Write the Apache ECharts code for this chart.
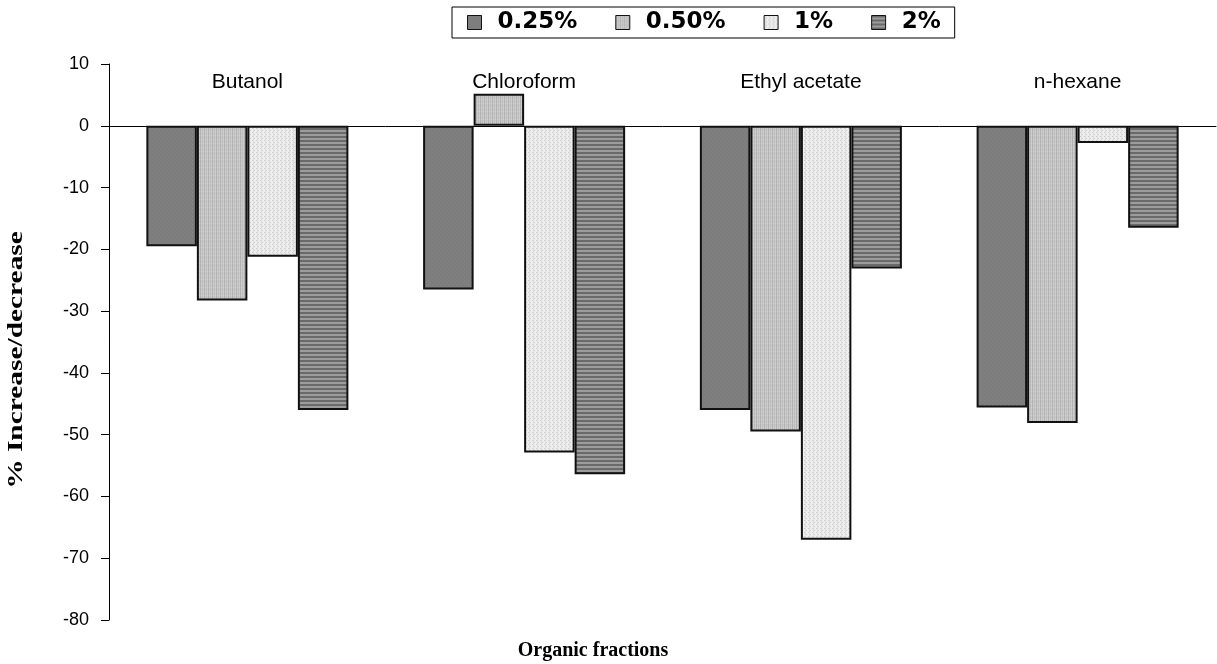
<!DOCTYPE html>
<html>
<head>
<meta charset="utf-8">
<script src="https://cdn.jsdelivr.net/npm/echarts@6/dist/echarts.min.js"></script>
<style>html,body{margin:0;padding:0;background:#fff;}#c{width:1217px;height:664px;}</style>
</head>
<body>
<div id="c"></div>
<script>
const categories = ['Butanol', 'Chloroform', 'Ethyl acetate', 'n-hexane'];
const seriesNames = ['0.25%', '0.50%', '1%', '2%'];
const s025 = [-19.5, -26.5, -46.0, -45.6];
const s050 = [-28.3, 5.2, -49.5, -48.1];
const s1 = [-21.2, -52.9, -67.0, -2.8];
const s2 = [-46.0, -56.4, -23.1, -16.5];
const yTicks = { min: -80, max: 10, interval: 10 };

function pattern(kind) {
  const c = document.createElement('canvas');
  c.width = 4; c.height = 4;
  const g = c.getContext('2d');
  if (kind === 0) {
    g.fillStyle = '#7d7d7d'; g.fillRect(0, 0, 4, 4);
    g.fillStyle = '#868686'; g.fillRect(0, 0, 1, 1); g.fillRect(2, 2, 1, 1);
  } else if (kind === 1) {
    g.fillStyle = '#c9c9c9'; g.fillRect(0, 0, 4, 4);
    g.fillStyle = '#b2b2b2'; g.fillRect(0, 0, 1, 4);
    g.fillStyle = '#bdbdbd'; g.fillRect(2, 0, 1, 4);
    g.fillStyle = '#d4d4d4'; g.fillRect(1, 3, 1, 1); g.fillRect(3, 3, 1, 1);
  } else if (kind === 2) {
    g.fillStyle = '#eeeeee'; g.fillRect(0, 0, 4, 4);
    g.fillStyle = '#cdcdcd'; g.fillRect(0, 0, 1, 1); g.fillRect(2, 2, 1, 1);
    g.fillStyle = '#dddddd'; g.fillRect(1, 0, 1, 4);
  } else {
    g.fillStyle = '#9c9c9c'; g.fillRect(0, 0, 4, 4);
    g.fillStyle = '#6a6a6a'; g.fillRect(0, 0, 4, 2);
  }
  return { image: c, repeat: 'repeat' };
}

const data = [s025, s050, s1, s2];
const chart = echarts.init(document.getElementById('c'), null, { renderer: 'canvas' });
const series = seriesNames.map((n, i) => ({
  name: n,
  type: 'bar',
  data: data[i],
  barGap: '0%',
  barCategoryGap: '27%',
  itemStyle: { color: pattern(i), borderColor: '#111', borderWidth: 2 },
  emphasis: { disabled: true }
}));

chart.setOption({
  animation: false,
  backgroundColor: '#fff',
  grid: { left: 109, right: 1, top: 64, bottom: 44, containLabel: false },
  legend: {
    data: seriesNames,
    left: 452, top: 7,
    padding: [4, 14, 4, 15],
    itemGap: 38,
    itemWidth: 14, itemHeight: 14,
    borderColor: '#000', borderWidth: 1,
    backgroundColor: '#fff',
    icon: 'rect',
    itemStyle: { borderColor: '#111', borderWidth: 1 },
    textStyle: { fontFamily: 'DejaVu Sans', fontWeight: 'bold', fontSize: 23, color: '#000', padding: [0, 0, 0, 11] }
  },
  xAxis: {
    type: 'category',
    data: categories,
    position: 'top',
    axisLine: { onZero: true, lineStyle: { color: '#000', width: 1 } },
    axisTick: { show: false },
    axisLabel: { margin: -29, fontFamily: 'Liberation Sans', fontSize: 21, color: '#000' },
    splitLine: { show: false }
  },
  yAxis: {
    type: 'value',
    min: yTicks.min, max: yTicks.max, interval: yTicks.interval,
    axisLine: { show: true, lineStyle: { color: '#000', width: 1 } },
    axisTick: { show: true, length: 8, lineStyle: { color: '#000' } },
    axisLabel: { margin: 20, fontFamily: 'Liberation Sans', fontSize: 18, color: '#000' },
    splitLine: { show: false }
  },
  graphic: [
    {
      type: 'text', x: 17, y: 360, rotation: Math.PI / 2, scaleX: 1.4, scaleY: 1,
      style: { text: '% Increase/decrease', fontFamily: 'Liberation Serif', fontWeight: 'bold', fontSize: 21, fill: '#000', textAlign: 'center', textVerticalAlign: 'middle' }
    },
    {
      type: 'text', x: 593, y: 651,
      style: { text: 'Organic fractions', fontFamily: 'Liberation Serif', fontWeight: 'bold', fontSize: 20, fill: '#000', textAlign: 'center', textVerticalAlign: 'middle' }
    }
  ],
  series: series
});
</script>
</body>
</html>
